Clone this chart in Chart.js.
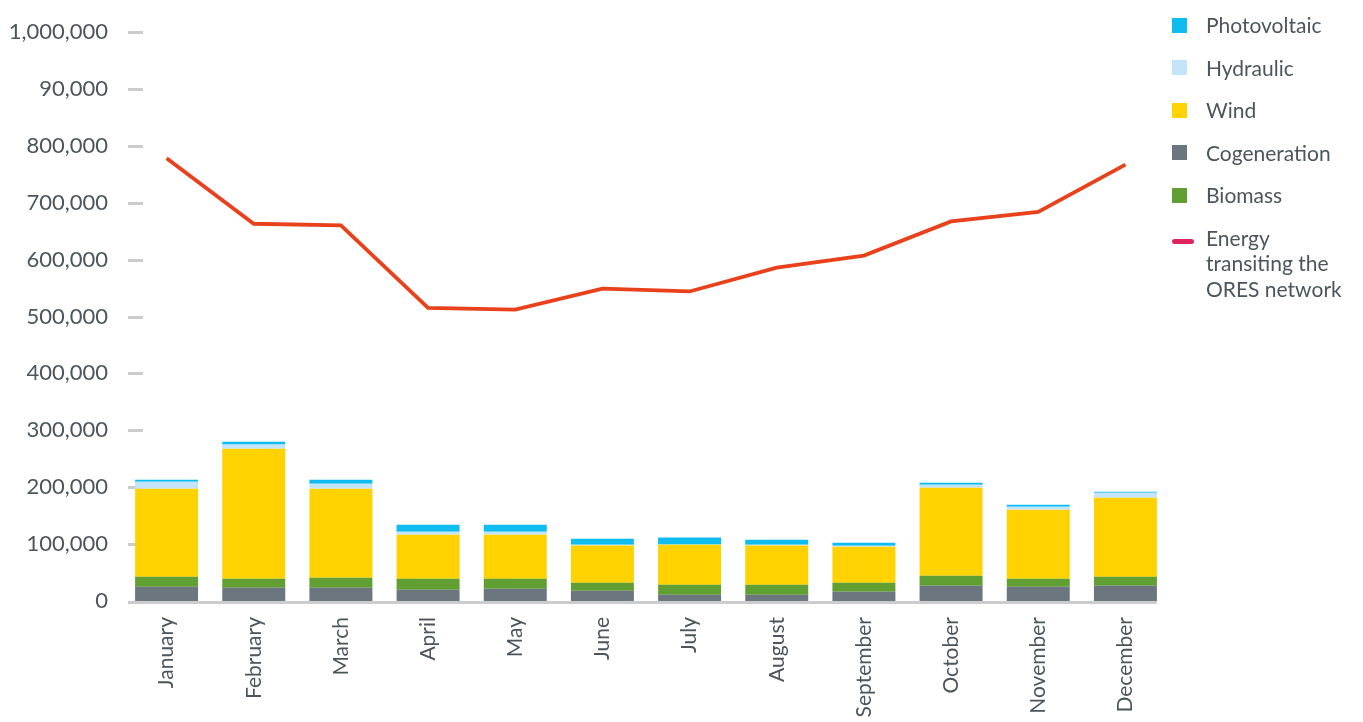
<!DOCTYPE html>
<html>
<head>
<meta charset="utf-8">
<title>Monthly energy</title>
<script src="https://cdn.jsdelivr.net/npm/chart.js@4/dist/chart.umd.min.js"></script>
<style>
  body { margin: 0; background: #fff; font-family: Lato, sans-serif; }
  #wrap { position: relative; width: 1363px; height: 722px; overflow: hidden; }
  #legend { position: absolute; left: 1172px; top: 14px; margin: 0; padding: 0; list-style: none; color: #4b555b; font-size: 21px; }
  #legend li { position: relative; padding-left: 34px; height: 42.5px; line-height: 22px; white-space: nowrap; }
  #legend li .box { position: absolute; left: 0; top: 3.5px; width: 15px; height: 15px; }
  #legend li.line { line-height: 25.5px; margin-top: -2px; }
  #legend li.line .box { top: 14px; width: 22px; height: 5px; border-radius: 3px; }
</style>
</head>
<body>
<div id="wrap">
  <canvas id="my-chart" width="1363" height="722"></canvas>
  <ul id="legend"></ul>
</div>
<script>
'use strict';

let months = ['January', 'February', 'March', 'April', 'May', 'June', 'July', 'August', 'September', 'October', 'November', 'December'];

// stacked injections, bottom to top (MWh)
let cogeneration = [25000, 23400, 23400, 19900, 21600, 18100, 11100, 11100, 16300, 26900, 25100, 26900];
let biomass = [17700, 15800, 17500, 19300, 17600, 14100, 17500, 17500, 15900, 17600, 14100, 15800];
let wind = [154700, 228500, 156500, 77300, 77300, 65500, 70400, 69100, 63200, 154600, 121300, 138800];
let hydraulic = [12300, 7200, 8800, 5300, 5300, 1300, 500, 1000, 1700, 5300, 5200, 8800];
let photovoltaic = [3500, 5100, 7000, 12300, 12300, 10500, 12300, 9000, 5400, 3500, 3500, 1800];

let energyTransit = [778000, 663000, 660000, 515000, 512000, 549000, 544000, 586000, 607000, 667000, 684000, 767000];

// axis labels as printed (the 900,000 tick reads "90,000")
let yTickLabels = ['0', '100,000', '200,000', '300,000', '400,000', '500,000', '600,000', '700,000', '800,000', '90,000', '1,000,000'];

let colors = {
  photovoltaic: '#0fbcef',
  hydraulic: '#c4e5f9',
  wind: '#ffd200',
  cogeneration: '#6b767e',
  biomass: '#629f33',
  line: '#e8411b',
  lineKey: '#e0245e'
};

let textColor = '#4b555b';
let axisGray = '#cccccc';

// short dashes at each y tick and the grey baseline under the bars
let axisMarks = {
  id: 'axisMarks',
  beforeDatasetsDraw(chart) {
    let ctx = chart.ctx;
    let y = chart.scales.y;
    let area = chart.chartArea;
    ctx.save();
    ctx.strokeStyle = axisGray;
    ctx.lineWidth = 3;
    y.ticks.forEach((t, i) => {
      if (i === 0) return;
      let py = Math.round(y.getPixelForTick(i)) + 0.5;
      ctx.beginPath();
      ctx.moveTo(area.left + 5, py);
      ctx.lineTo(area.left + 20, py);
      ctx.stroke();
    });
    let bars = chart.getDatasetMeta(0).data;
    let last = bars[bars.length - 1];
    let right = last.x + last.width / 2;
    ctx.beginPath();
    ctx.moveTo(area.left + 5, area.bottom + 1.5);
    ctx.lineTo(right, area.bottom + 1.5);
    ctx.stroke();
    ctx.restore();
  }
};

function barSet(label, data, color) {
  return {
    type: 'bar',
    label: label,
    data: data,
    backgroundColor: color,
    stack: 'sources',
    order: 1,
    categoryPercentage: 0.85,
    barPercentage: 0.85
  };
}

let chartObj = {
  data: {
    labels: months,
    datasets: [
      barSet('Cogeneration', cogeneration, colors.cogeneration),
      barSet('Biomass', biomass, colors.biomass),
      barSet('Wind', wind, colors.wind),
      barSet('Hydraulic', hydraulic, colors.hydraulic),
      barSet('Photovoltaic', photovoltaic, colors.photovoltaic),
      {
        type: 'line',
        label: 'Energy transiting the ORES network',
        data: energyTransit,
        borderColor: colors.line,
        backgroundColor: colors.line,
        borderWidth: 3.8,
        pointRadius: 0,
        tension: 0,
        stack: 'transit',
        order: 0
      }
    ]
  },
  options: {
    responsive: false,
    animation: false,
    layout: { padding: { top: 32, right: 194, bottom: 0, left: 0 } },
    plugins: {
      legend: { display: false },
      tooltip: { enabled: false }
    },
    scales: {
      x: {
        stacked: true,
        grid: { display: false, drawTicks: false },
        border: { display: false },
        ticks: {
          color: textColor,
          font: { family: 'Lato', size: 21 },
          minRotation: 90,
          maxRotation: 90,
          padding: 16,
          autoSkip: false
        },
        afterFit(scale) { scale.height = 121; }
      },
      y: {
        stacked: true,
        min: 0,
        max: 1000000,
        grid: { display: false, drawTicks: false },
        border: { display: false },
        ticks: {
          stepSize: 100000,
          color: textColor,
          font: { family: 'Lato', size: 22 },
          padding: 15,
          callback: (value, index) => yTickLabels[index]
        },
        afterFit(scale) { scale.width = 123; }
      }
    }
  },
  plugins: [axisMarks]
};

new Chart(document.getElementById('my-chart'), chartObj); //eslint-disable-line

// legend, top entry first
let legendItems = [
  { text: 'Photovoltaic', color: colors.photovoltaic },
  { text: 'Hydraulic', color: colors.hydraulic },
  { text: 'Wind', color: colors.wind },
  { text: 'Cogeneration', color: colors.cogeneration },
  { text: 'Biomass', color: colors.biomass },
  { text: 'Energy<br>transiting the<br>ORES network', color: colors.lineKey, line: true }
];
let legendElem = document.getElementById('legend');
legendItems.forEach(item => {
  let li = document.createElement('li');
  if (item.line) li.className = 'line';
  li.innerHTML = '<span class="box" style="background:' + item.color + '"></span>' + item.text;
  legendElem.appendChild(li);
});
</script>
</body>
</html>
